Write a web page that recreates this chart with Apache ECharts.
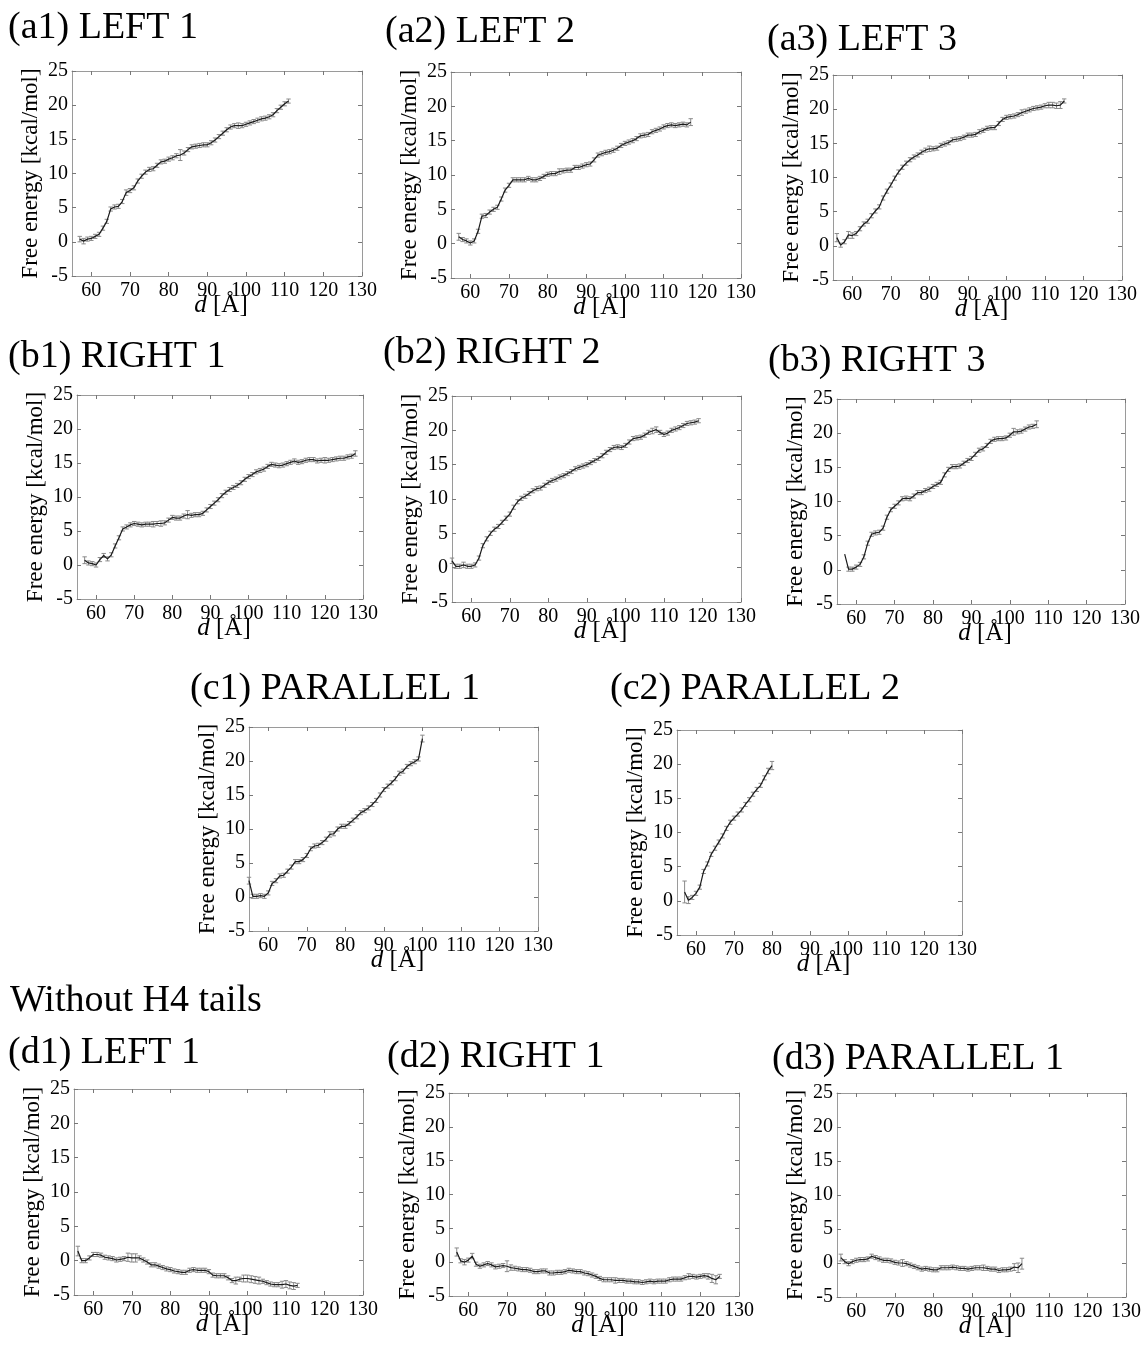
<!DOCTYPE html>
<html>
<head>
<meta charset="utf-8">
<script src="https://cdn.jsdelivr.net/npm/echarts@6/dist/echarts.min.js"></script>
<style>
html,body{margin:0;padding:0;background:#fff;}
#chart{width:1146px;height:1345px;}
</style>
</head>
<body>
<div id="chart"></div>
<script>
// ---------- data ----------
const xTicks = [60, 70, 80, 90, 100, 110, 120, 130];
const yTicks = [-5, 0, 5, 10, 15, 20, 25];
const panelTitles = ['(a1) LEFT 1','(a2) LEFT 2','(a3) LEFT 3','(b1) RIGHT 1','(b2) RIGHT 2','(b3) RIGHT 3','(c1) PARALLEL 1','(c2) PARALLEL 2','(d1) LEFT 1','(d2) RIGHT 1','(d3) PARALLEL 1'];
const sectionTitle = 'Without H4 tails';
const xName = 'd [Å]';
const yName = 'Free energy [kcal/mol]';

// first d value (Å) of each curve; points are spaced 1 Å apart
const dStart = [57, 57, 56, 57, 55, 57, 55, 57, 56, 57, 56];

const a1 = [0.4,0.1,0.4,0.5,0.8,1.1,2.0,3.0,4.8,5.1,5.2,5.9,7.2,7.5,7.9,8.9,9.6,10.2,10.6,10.7,11.2,11.7,11.8,12.1,12.3,12.6,12.7,13.0,13.5,13.9,14.0,14.1,14.2,14.2,14.5,14.9,15.4,15.9,16.4,16.8,17.0,17.0,17.0,17.2,17.4,17.6,17.8,18.0,18.1,18.3,18.6,19.2,19.7,20.2,20.6];
const a1Err = [0.4,0.4,0.3,0.3,0.3,0.3,0.3,0.3,0.3,0.3, 0.3,0.3,0.4,0.3,0.3,0.3,0.3,0.3,0.3,0.3, 0.3,0.3,0.3,0.3,0.3,0.3,0.8,0.3,0.3,0.3, 0.3,0.3,0.3,0.3,0.3,0.3,0.3,0.3,0.3,0.3, 0.3,0.4,0.3,0.3,0.3,0.3,0.3,0.3,0.3,0.3, 0.3,0.3,0.3,0.3,0.3];

const a2 = [1.0,0.6,0.4,0.1,0.4,1.8,4.0,4.1,4.6,5.0, 5.3,6.5,7.8,8.5,9.3,9.3,9.3,9.3,9.5,9.3, 9.3,9.5,9.8,10.1,10.2,10.2,10.5,10.6,10.7,10.7, 11.1,11.1,11.3,11.5,11.6,12.2,12.9,13.1,13.3,13.4, 13.6,13.9,14.3,14.6,14.8,15.0,15.3,15.7,15.8,15.9, 16.3,16.5,16.7,17.0,17.2,17.3,17.2,17.3,17.4,17.3, 17.7];
const a2Err = [0.5,0.3,0.3,0.3,0.3,0.3,0.3,0.3,0.3,0.3, 0.3,0.3,0.3,0.3,0.3,0.3,0.3,0.3,0.3,0.3, 0.3,0.3,0.3,0.3,0.3,0.3,0.4,0.3,0.3,0.3, 0.3,0.3,0.3,0.3,0.3,0.3,0.3,0.3,0.3,0.3, 0.3,0.3,0.3,0.3,0.3,0.3,0.3,0.3,0.3,0.3, 0.3,0.3,0.3,0.3,0.3,0.3,0.3,0.3,0.3,0.3, 0.5];

const a3 = [1.2,0.1,0.6,1.6,1.5,1.8,2.5,3.2,3.6,4.4, 5.1,5.7,7.0,8.0,8.9,9.9,10.8,11.5,12.1,12.6, 13.0,13.3,13.7,14.0,14.2,14.2,14.3,14.7,14.9,15.1, 15.5,15.6,15.7,15.9,16.2,16.2,16.3,16.7,16.9,17.2, 17.3,17.3,17.9,18.5,18.8,18.9,19.0,19.2,19.5,19.7, 19.9,20.1,20.2,20.3,20.5,20.6,20.6,20.5,20.6,21.2];
const a3Err = [0.6,0.3,0.3,0.5,0.4,0.3,0.3,0.3,0.3,0.3, 0.3,0.3,0.3,0.3,0.3,0.3,0.3,0.3,0.3,0.3, 0.3,0.3,0.3,0.3,0.4,0.3,0.3,0.3,0.3,0.3, 0.3,0.3,0.3,0.3,0.3,0.3,0.3,0.3,0.3,0.3, 0.3,0.3,0.3,0.3,0.3,0.3,0.3,0.3,0.4,0.3, 0.3,0.3,0.3,0.3,0.3,0.4,0.4,0.4,0.5,0.3];

const b1 = [0.7,0.3,0.2,0.0,0.8,1.4,0.9,1.5,2.8,4.0, 5.3,5.6,5.9,6.1,6.0,5.9,6.0,6.0,6.0,6.1, 6.1,6.2,6.6,7.0,6.9,6.9,7.2,7.4,7.3,7.4, 7.4,7.6,8.1,8.6,9.1,9.6,10.2,10.7,11.1,11.4, 11.7,12.1,12.6,13.0,13.3,13.7,13.9,14.1,14.5,14.8, 14.7,14.6,14.7,14.9,15.1,15.3,15.1,15.2,15.4,15.5, 15.5,15.3,15.4,15.4,15.4,15.5,15.6,15.7,15.7,15.9, 16.0,16.4];
const b1Err = [0.5,0.3,0.3,0.3,0.3,0.3,0.3,0.3,0.3,0.3, 0.3,0.3,0.3,0.3,0.3,0.3,0.3,0.3,0.4,0.3, 0.4,0.3,0.3,0.3,0.3,0.3,0.3,0.6,0.3,0.3, 0.3,0.3,0.3,0.3,0.3,0.3,0.3,0.3,0.3,0.3, 0.3,0.3,0.3,0.3,0.3,0.3,0.3,0.3,0.3,0.3, 0.3,0.3,0.3,0.3,0.3,0.3,0.3,0.3,0.3,0.3, 0.3,0.3,0.3,0.4,0.3,0.3,0.3,0.3,0.3,0.3, 0.3,0.4];

const b2 = [1.0,0.2,0.2,0.4,0.2,0.2,0.4,1.4,3.2,4.2, 5.0,5.6,6.0,6.6,7.2,7.8,8.8,9.6,10.1,10.4, 10.8,11.2,11.5,11.6,12.0,12.4,12.7,12.9,13.2,13.4, 13.7,14.0,14.4,14.6,14.8,15.0,15.3,15.6,15.9,16.3, 16.8,17.2,17.5,17.6,17.5,17.8,18.3,18.8,18.9,19.0, 19.3,19.7,19.9,20.1,19.7,19.4,19.6,20.0,20.2,20.4, 20.7,21.0,21.1,21.2,21.4];
const b2Err = [0.4,0.3,0.3,0.4,0.3,0.3,0.3,0.3,0.3,0.3, 0.3,0.3,0.3,0.3,0.3,0.3,0.3,0.3,0.3,0.3, 0.3,0.3,0.3,0.3,0.3,0.3,0.3,0.3,0.3,0.3, 0.3,0.3,0.3,0.3,0.3,0.3,0.3,0.3,0.3,0.3, 0.3,0.3,0.3,0.3,0.3,0.3,0.3,0.3,0.3,0.3, 0.3,0.3,0.4,0.4,0.3,0.3,0.3,0.3,0.3,0.3, 0.3,0.3,0.3,0.3,0.3];

const b3 = [2.3,0.1,0.1,0.4,0.8,1.9,3.9,5.2,5.4,5.5, 6.1,7.7,8.8,9.3,9.8,10.4,10.5,10.4,10.8,11.3, 11.3,11.6,11.8,12.2,12.5,12.8,13.9,14.7,15.1,15.1, 15.2,15.6,16.0,16.3,16.9,17.5,17.7,18.2,18.8,19.1, 19.2,19.2,19.3,19.7,20.2,20.2,20.3,20.6,20.9,21.0, 21.3];
const b3Err = [0.0,0.3,0.3,0.3,0.3,0.3,0.3,0.3,0.3,0.3, 0.3,0.3,0.3,0.3,0.3,0.3,0.3,0.3,0.3,0.3, 0.3,0.3,0.3,0.3,0.3,0.3,0.3,0.3,0.3,0.3, 0.3,0.3,0.3,0.3,0.3,0.3,0.3,0.3,0.3,0.3, 0.3,0.3,0.3,0.3,0.5,0.3,0.3,0.3,0.3,0.3, 0.5];

const c1 = [2.4,0.1,0.1,0.2,0.1,0.6,2.0,2.4,3.1,3.2, 3.8,4.4,5.2,5.2,5.5,6.1,7.1,7.5,7.6,8.0, 8.5,9.2,9.3,10.0,10.4,10.4,10.8,11.3,11.8,12.4, 12.7,13.1,13.6,14.2,15.0,15.8,16.3,16.8,17.4,18.2, 18.5,19.2,19.6,19.9,20.3,23.3];
const c1Err = [0.5,0.3,0.3,0.3,0.3,0.3,0.3,0.3,0.3,0.3, 0.3,0.3,0.3,0.3,0.3,0.3,0.3,0.3,0.3,0.3, 0.3,0.4,0.3,0.3,0.3,0.3,0.3,0.3,0.3,0.3, 0.3,0.3,0.3,0.3,0.3,0.3,0.3,0.3,0.3,0.3, 0.3,0.3,0.3,0.3,0.3,0.5];

const c2 = [1.3,0.1,0.5,1.1,2.0,4.3,5.4,6.8,7.7,8.6, 9.5,10.6,11.5,12.1,12.7,13.3,14.1,14.8,15.6,16.3, 16.9,18.0,19.0,19.8];
const c2Err = [1.6,0.5,0.3,0.3,0.3,0.3,0.3,0.3,0.3,0.3, 0.3,0.3,0.3,0.3,0.3,0.3,0.3,0.3,0.3,0.3, 0.3,0.3,0.4,0.6];

const d1 = [1.4,0.0,0.0,0.4,0.9,0.9,0.8,0.5,0.4,0.3, 0.1,0.2,0.3,0.5,0.4,0.4,0.4,0.1,-0.2,-0.6, -0.6,-0.8,-1.0,-1.2,-1.3,-1.5,-1.6,-1.7,-1.7,-1.4, -1.3,-1.4,-1.4,-1.4,-1.6,-2.1,-2.2,-2.2,-2.2,-2.5, -2.9,-2.9,-2.7,-2.6,-2.6,-2.7,-2.8,-2.9,-3.0,-3.2, -3.4,-3.5,-3.5,-3.5,-3.4,-3.6,-3.7,-3.6];
const d1Err = [0.7,0.3,0.3,0.3,0.3,0.3,0.3,0.3,0.3,0.3, 0.3,0.3,0.3,0.6,0.6,0.6,0.3,0.3,0.3,0.3, 0.3,0.3,0.3,0.3,0.3,0.3,0.3,0.3,0.3,0.3, 0.3,0.3,0.3,0.3,0.3,0.3,0.3,0.3,0.3,0.3, 0.3,0.5,0.3,0.5,0.5,0.5,0.5,0.5,0.3,0.3, 0.3,0.3,0.3,0.5,0.5,0.5,0.5,0.3];

const d2 = [1.5,0.2,0.0,0.3,0.9,-0.3,-0.6,-0.4,-0.2,-0.4, -0.7,-0.6,-0.5,-0.6,-0.8,-0.9,-1.0,-1.1,-1.1,-1.2, -1.4,-1.4,-1.3,-1.3,-1.6,-1.6,-1.5,-1.5,-1.4,-1.2, -1.3,-1.4,-1.4,-1.6,-1.7,-1.9,-2.1,-2.4,-2.6,-2.6, -2.6,-2.7,-2.7,-2.7,-2.8,-2.8,-2.9,-2.9,-3.0,-2.9, -2.8,-2.9,-2.8,-2.8,-2.8,-2.6,-2.5,-2.5,-2.5,-2.3, -2.1,-2.1,-2.2,-2.1,-2.0,-2.1,-2.4,-2.6,-2.1];
const d2Err = [0.6,0.3,0.4,0.3,0.4,0.3,0.3,0.3,0.3,0.3, 0.3,0.3,0.3,0.8,0.4,0.3,0.3,0.3,0.3,0.3, 0.3,0.3,0.3,0.3,0.3,0.3,0.3,0.3,0.3,0.3, 0.3,0.3,0.3,0.3,0.3,0.3,0.3,0.3,0.3,0.3, 0.3,0.4,0.3,0.3,0.3,0.3,0.3,0.3,0.3,0.3, 0.3,0.3,0.3,0.3,0.3,0.3,0.3,0.3,0.3,0.3, 0.4,0.3,0.3,0.3,0.3,0.4,0.6,0.6,0.3];

const d3 = [0.8,0.2,-0.1,0.2,0.4,0.5,0.5,0.6,1.0,0.8, 0.6,0.4,0.4,0.3,0.1,0.0,0.0,-0.1,-0.3,-0.5, -0.7,-0.9,-0.8,-0.9,-1.0,-1.0,-0.7,-0.7,-0.7,-0.6, -0.7,-0.8,-0.8,-0.9,-0.8,-0.7,-0.7,-0.7,-0.8,-0.9, -0.9,-1.1,-1.0,-1.0,-0.9,-0.6,-0.7,-0.1];
const d3Err = [0.5,0.3,0.3,0.3,0.3,0.3,0.3,0.3,0.3,0.3, 0.3,0.3,0.3,0.3,0.3,0.3,0.5,0.3,0.3,0.3, 0.3,0.3,0.3,0.3,0.3,0.3,0.3,0.3,0.3,0.3, 0.3,0.3,0.3,0.3,0.3,0.3,0.3,0.4,0.3,0.3, 0.3,0.3,0.3,0.3,0.3,0.5,0.7,0.8];

const curves = [a1, a2, a3, b1, b2, b3, c1, c2, d1, d2, d3];
const errors = [a1Err, a2Err, a3Err, b1Err, b2Err, b3Err, c1Err, c2Err, d1Err, d2Err, d3Err];

// ---------- layout ----------
const grids = [
  {left: 72, top: 71, width: 290, height: 205},
  {left: 451, top: 72, width: 290, height: 206},
  {left: 833, top: 75, width: 289, height: 205},
  {left: 77, top: 395, width: 286, height: 204},
  {left: 452, top: 396, width: 289, height: 206},
  {left: 837, top: 399, width: 288, height: 205},
  {left: 249, top: 727, width: 289, height: 204},
  {left: 677, top: 730, width: 285, height: 205},
  {left: 74, top: 1089, width: 289, height: 206},
  {left: 449, top: 1093, width: 290, height: 203},
  {left: 837, top: 1093, width: 289, height: 204}
];
const titlePos = [
  [8, 9], [385, 13], [767, 21],
  [8, 338], [383, 334], [768, 342],
  [190, 670], [610, 670],
  [8, 1034], [387, 1038], [772, 1040]
];
const sectionPos = [10, 982];

const FONT = '"Liberation Serif", "Times New Roman", serif';
const boxColor = '#9a9a9a';

const titles = panelTitles.map((t, i) => ({
  text: t, left: titlePos[i][0], top: titlePos[i][1], padding: 0,
  textStyle: {fontFamily: FONT, fontSize: 38, fontWeight: 'normal', color: '#000'}
}));
titles.push({
  text: sectionTitle, left: sectionPos[0], top: sectionPos[1], padding: 0,
  textStyle: {fontFamily: FONT, fontSize: 38, fontWeight: 'normal', color: '#000'}
});

const xAxes = [], yAxes = [], series = [];
grids.forEach((g, i) => {
  const common = {
    gridIndex: i, type: 'value', min: 55, max: 130,
    axisLine: {show: true, onZero: false, lineStyle: {color: boxColor, width: 1}},
    axisTick: {show: true, inside: true, length: 4, customValues: xTicks, lineStyle: {color: '#777'}},
    splitLine: {show: false}
  };
  xAxes.push(Object.assign({}, common, {
    position: 'bottom',
    axisLabel: {customValues: xTicks, color: '#000', fontFamily: FONT, fontSize: 20, margin: 5},
    name: '{i|d} [Å]',
    nameLocation: 'middle', nameGap: 17, nameMoveOverlap: false,
    nameTextStyle: {fontFamily: FONT, fontSize: 25, color: '#000', padding: [0, 0, 0, 8],
      rich: {i: {fontFamily: FONT, fontSize: 25, fontStyle: 'italic', color: '#000'}}}
  }));
  xAxes.push(Object.assign({}, common, {
    position: 'top', axisLabel: {show: false}
  }));
  const ycommon = {
    gridIndex: i, type: 'value', min: -5, max: 25, interval: 5,
    axisLine: {show: true, onZero: false, lineStyle: {color: boxColor, width: 1}},
    axisTick: {show: true, inside: true, length: 4, lineStyle: {color: '#777'}},
    splitLine: {show: false}
  };
  yAxes.push(Object.assign({}, ycommon, {
    position: 'left',
    axisLabel: {color: '#000', fontFamily: FONT, fontSize: 20, margin: 4},
    name: yName, nameLocation: 'middle', nameGap: 30, nameMoveOverlap: false,
    nameTextStyle: {fontFamily: FONT, fontSize: 23, color: '#000'}
  }));
  yAxes.push(Object.assign({}, ycommon, {
    position: 'right', axisLabel: {show: false}
  }));

  const vals = curves[i], errs = errors[i];
  const lineData = vals.map((v, k) => [dStart[i] + k, v]);
  const errData = vals.map((v, k) => [dStart[i] + k, v, errs[k]]);
  series.push({
    type: 'custom', xAxisIndex: 2 * i, yAxisIndex: 2 * i,
    data: errData, encode: {x: 0, y: 1}, z: 2, silent: true,
    renderItem: function (params, api) {
      const x = api.value(0), y = api.value(1), e = api.value(2);
      if (!e) return null;
      const p1 = api.coord([x, y + e]);
      const p2 = api.coord([x, y - e]);
      const w = 2.2;
      const st = {stroke: '#8a8a8a', lineWidth: 1};
      return {type: 'group', children: [
        {type: 'line', shape: {x1: p1[0], y1: p1[1], x2: p2[0], y2: p2[1]}, style: st},
        {type: 'line', shape: {x1: p1[0] - w, y1: p1[1], x2: p1[0] + w, y2: p1[1]}, style: st},
        {type: 'line', shape: {x1: p2[0] - w, y1: p2[1], x2: p2[0] + w, y2: p2[1]}, style: st}
      ]};
    }
  });
  series.push({
    type: 'line', xAxisIndex: 2 * i, yAxisIndex: 2 * i,
    data: lineData, showSymbol: false, z: 3, silent: true,
    lineStyle: {color: '#1a1a1a', width: 1.2}
  });
});

const chart = echarts.init(document.getElementById('chart'), null, {renderer: 'canvas'});
chart.setOption({
  animation: false,
  backgroundColor: '#fff',
  title: titles,
  grid: grids.map(g => Object.assign({containLabel: false}, g)),
  xAxis: xAxes,
  yAxis: yAxes,
  series: series
});
</script>
</body>
</html>
